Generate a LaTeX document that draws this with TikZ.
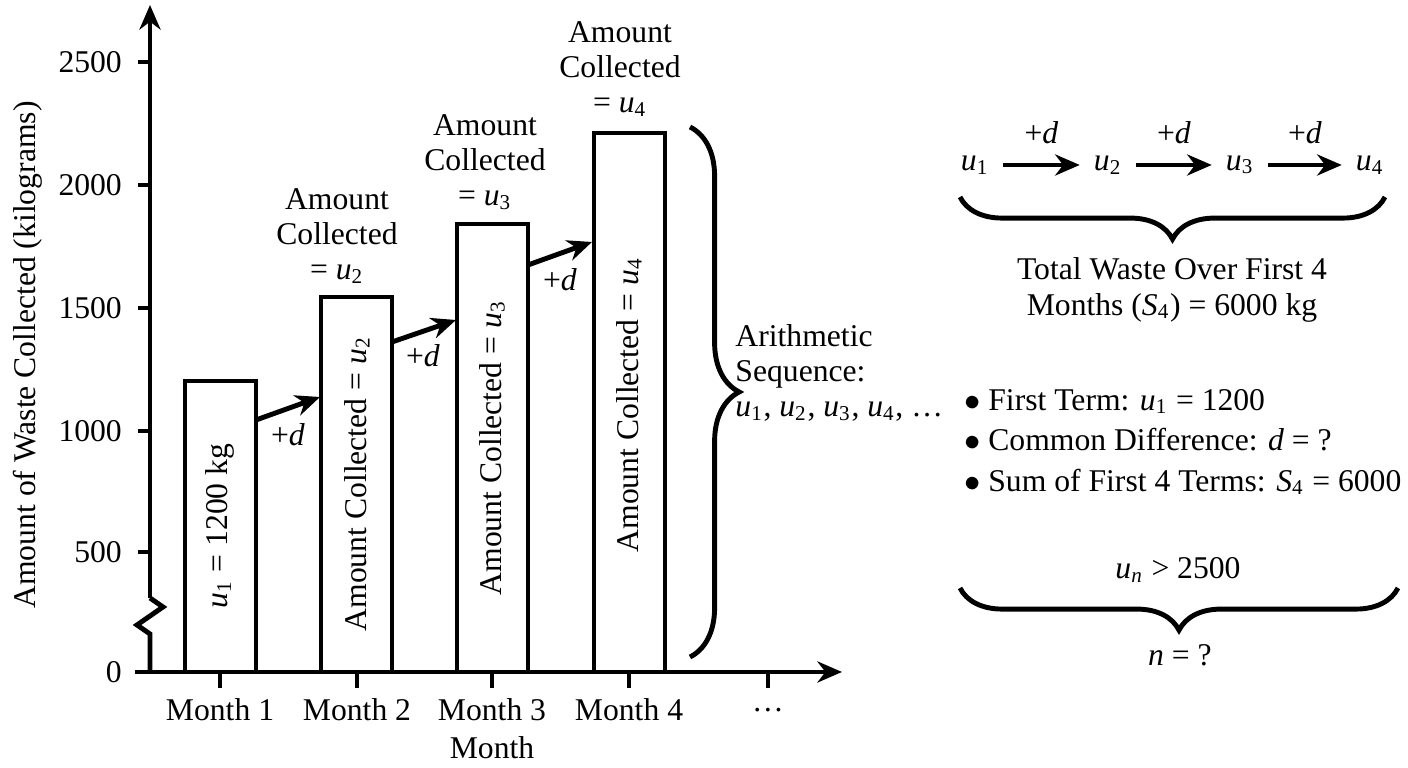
\documentclass[tikz,border=0pt]{standalone}
\usepackage{fontspec}
\setmainfont{Liberation Serif}
\usetikzlibrary{decorations.pathreplacing,arrows.meta}
\newcommand\vv[2]{\textit{#1}\textsubscript{#2}}
\begin{document}
\begin{tikzpicture}[x=0.01cm,y=-0.01cm,line width=1.4pt,
  every node/.style={font=\fontsize{9}{10}\selectfont},
  bar/.style={draw,line width=1.4pt},
  arr/.style={-{Stealth[length=7pt,width=6pt]},line width=1.4pt},
  br/.style={decorate,decoration={brace,amplitude=8pt},line width=1.4pt}]
\useasboundingbox (0,0) rectangle (1408,768);
% axes
\draw[arr] (150,598) -- (150,5);
\draw (150,598) -- (163,607) -- (137,625) -- (150,634) -- (150,672);
\draw[arr] (135,672) -- (842,672);
\foreach \v/\y in {2500/62,2000/185,1500/308,1000/431,500/552,0/672}{
  \draw (138,\y) -- (150,\y); \node[anchor=east] (t\v) at (136,\y) {\v};}
\foreach \x/\t [count=\i] in {220/Month 1,357/Month 2,492/Month 3,629/Month 4,768/\dots}{
  \draw (\x,672) -- (\x,688); \node (m\i) at (\x,710) {\t};}
\node (xl) at (492,748) {Month};
\node[rotate=90] (yl) at (28,355) {Amount of Waste Collected (kilograms)};
% bars
\draw[bar] (185,672) rectangle (256,381);
\draw[bar] (321,672) rectangle (392,297);
\draw[bar] (457,672) rectangle (528,224);
\draw[bar] (594,672) rectangle (665,133);
\node[rotate=90] (b1) at (220,526) {\vv{u}{1} = 1200 kg};
\node[rotate=90] (b2) at (357,484) {Amount Collected = \vv{u}{2}};
\node[rotate=90] (b3) at (492,448) {Amount Collected = \vv{u}{3}};
\node[rotate=90] (b4) at (629,405) {Amount Collected = \vv{u}{4}};
\node[align=center,inner sep=0pt] (l2) at (337,236) {Amount\\Collected\\= \vv{u}{2}};
\node[align=center,inner sep=0pt] (l3) at (485,162) {Amount\\Collected\\= \vv{u}{3}};
\node[align=center,inner sep=0pt] (l4) at (620,69) {Amount\\Collected\\= \vv{u}{4}};
% +d arrows
\coordinate (a1) at (256,420); \coordinate (a2) at (320,397);
\coordinate (c1) at (392,342); \coordinate (c2) at (456,320);
\coordinate (e1) at (528,265); \coordinate (e2) at (592,242);
\draw[arr] (a1) -- (a2); \node (d1) at (288,435) {+\textit{d}};
\draw[arr] (c1) -- (c2); \node (d2) at (423,356) {+\textit{d}};
\draw[arr] (e1) -- (e2); \node (d3) at (560,280) {+\textit{d}};
% big brace
\draw[br,decoration={amplitude=14pt}] (690,127) -- (690,657);
\node[align=left,anchor=west,inner sep=0pt] (seq) at (733,373) {Arithmetic\\Sequence:\\\vv{u}{1}, \vv{u}{2}, \vv{u}{3}, \vv{u}{4}, \dots};
% right top
\node (u1) at (975,165) {\vv{u}{1}};
\node (u2) at (1108,165) {\vv{u}{2}};
\node (u3) at (1240,165) {\vv{u}{3}};
\node (u4) at (1370,165) {\vv{u}{4}};
\draw[arr] (u1) -- (u2) node[midway,above=2pt] {+\textit{d}};
\draw[arr] (u2) -- (u3) node[midway,above=2pt] {+\textit{d}};
\draw[arr] (u3) -- (u4) node[midway,above=2pt] {+\textit{d}};
\draw[br,decoration={amplitude=12pt}] (1385,197) -- (960,197);
\node[align=center] (tot) at (1172,290) {Total Waste Over First 4\\Months (\vv{S}{4}) = 6000 kg};
\node[anchor=west,align=left] (bl) at (950,442) {$\bullet$\ First Term: \vv{u}{1} = 1200\\[1.5pt]$\bullet$\ Common Difference: \textit{d} = ?\\[1.5pt]$\bullet$\ Sum of First 4 Terms: \vv{S}{4} = 6000};
\node (un) at (1178,570) {\textit{u}\textsubscript{\textit{n}} > 2500};
\draw[br,decoration={amplitude=12pt}] (1398,588) -- (960,588);
\node (n) at (1180,655) {\textit{n} = ?};
\end{tikzpicture}
\end{document}
